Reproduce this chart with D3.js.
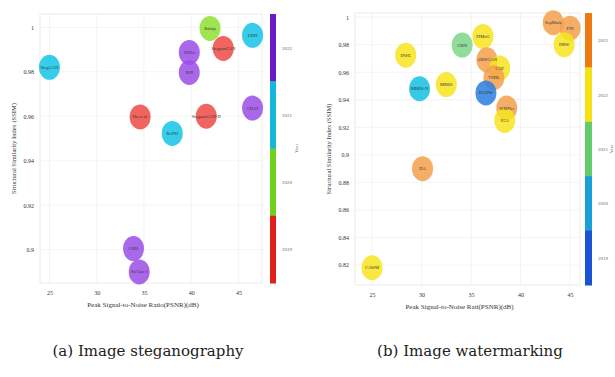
<!DOCTYPE html>
<html><head><meta charset="utf-8">
<script src="https://cdn.jsdelivr.net/npm/d3@7"></script>
<style>body{margin:0;background:#fff}svg{display:block}text{font-family:"Liberation Serif","DejaVu Serif",serif}text.cap{font-family:"DejaVu Serif",serif}</style>
</head><body><svg id="c" width="615" height="377"></svg>
<script>
// ---- (a) Image steganography ----
const stegNames = ["Baluja","UDH","SteganoGAN","HiNet","ISN","StegGAN","Hu et al.","SteganoGAN-D","CHAT","RePSI","CSIS","SteGuz-1"];
const stegPSNR  = [42.0, 46.5, 43.4, 39.8, 39.8, 25.0, 34.6, 41.6, 46.5, 38.0, 33.9, 34.5];
const stegSSIM  = [0.9995, 0.9964, 0.9905, 0.9887, 0.9797, 0.982, 0.9597, 0.960, 0.9637, 0.9523, 0.9005, 0.890];
const stegYear  = [2020, 2021, 2019, 2022, 2022, 2021, 2019, 2019, 2022, 2021, 2022, 2022];
const stegYears = [2022, 2021, 2020, 2019];
const stegColors = ["#6a1bc4", "#16b8da", "#6fd11e", "#e0201c"];
const stegPointColors = ["#9a4ee6", "#12c4e6", "#8fe030", "#ee4a44"];
const stegXTicks = [25, 30, 35, 40, 45];
const stegYTicks = [0.9, 0.92, 0.94, 0.96, 0.98, 1];

// ---- (b) Image watermarking ----
const wmNames = ["CAWM","DA","DWE","CRIS","PIMoG","ARWGAN","CAT","TSDL","MBRS-N","MBRS","DADW","WMNet","IGA","SepMark","FIN","DRW"];
const wmPSNR  = [25.0, 30.1, 28.4, 34.1, 36.2, 36.6, 37.9, 37.3, 29.8, 32.5, 36.5, 38.6, 38.4, 43.3, 45.0, 44.4];
const wmSSIM  = [0.818, 0.890, 0.9724, 0.9797, 0.986, 0.969, 0.963, 0.956, 0.948, 0.951, 0.945, 0.934, 0.925, 0.996, 0.992, 0.980];
const wmYear  = [2022, 2023, 2022, 2021, 2022, 2023, 2022, 2023, 2020, 2022, 2019, 2023, 2022, 2023, 2023, 2022];
const wmYears = [2023, 2022, 2021, 2020, 2019];
const wmColors = ["#f07a12", "#f6e214", "#62cc6a", "#1a9fd8", "#1a52d4"];
const wmPointColors = ["#f5a04c", "#f7e41e", "#7ed68a", "#14c0e4", "#2a7ee0"];
const wmXTicks = [25, 30, 35, 40, 45];
const wmYTicks = [0.82, 0.84, 0.86, 0.88, 0.9, 0.92, 0.94, 0.96, 0.98, 1];

const svg = d3.select("#c");

function panel(o) {
  const g = svg.append("g");
  const x = d3.scaleLinear().domain(o.xDomain).range([o.left, o.right]);
  const y = d3.scaleLinear().domain(o.yDomain).range([o.bottom, o.top]);
  // grid
  g.append("g").selectAll("line.gx").data(o.xTicks).join("line")
    .attr("x1", d => x(d)).attr("x2", d => x(d)).attr("y1", o.top).attr("y2", o.bottom)
    .attr("stroke", "#ececec").attr("stroke-width", 0.6);
  g.append("g").selectAll("line.gy").data(o.yTicks).join("line")
    .attr("x1", o.left).attr("x2", o.right).attr("y1", d => y(d)).attr("y2", d => y(d))
    .attr("stroke", "#ececec").attr("stroke-width", 0.6);
  g.append("rect").attr("x", o.left).attr("y", o.top).attr("width", o.right - o.left)
    .attr("height", o.bottom - o.top).attr("fill", "none").attr("stroke", "#e2e2e2").attr("stroke-width", 0.7);
  // axes
  const xa = g.append("g").attr("transform", `translate(0,${o.bottom})`)
    .call(d3.axisBottom(x).tickValues(o.xTicks).tickSize(0).tickPadding(8).tickFormat(d3.format("d")));
  const ya = g.append("g").attr("transform", `translate(${o.left},0)`)
    .call(d3.axisLeft(y).tickValues(o.yTicks).tickSize(0).tickPadding(6).tickFormat(d => d === 1 ? "1" : d3.format(".2~f")(d)));
  [xa, ya].forEach(a => { a.select(".domain").remove(); a.selectAll("text").attr("font-size", 6).attr("fill", "#333"); });
  g.append("text").attr("x", (o.left + o.right) / 2 - 8).attr("y", o.bottom + 24)
    .attr("text-anchor", "middle").attr("font-size", 7).attr("fill", "#333").text(o.xLabel);
  g.append("text").attr("transform", `translate(${o.left - 24},${(o.top + o.bottom) / 2}) rotate(-90)`)
    .attr("text-anchor", "middle").attr("font-size", 6.5).attr("fill", "#333")
    .text("Structural Similarity Index (SSIM)");
  // colorbar
  const cb = d3.scaleBand().domain(o.years).range([o.top, o.bottom]).padding(0);
  g.append("g").selectAll("rect").data(o.years).join("rect")
    .attr("x", o.cbX).attr("y", d => cb(d)).attr("width", o.cbW).attr("height", cb.bandwidth() + 0.5)
    .attr("fill", (d, i) => o.colors[i]);
  g.append("g").selectAll("text").data(o.years).join("text")
    .attr("x", o.cbX + o.cbW + 6).attr("y", d => cb(d) + cb.bandwidth() / 2 + 2)
    .attr("font-size", 5).attr("fill", "#666").text(d => d);
  g.append("text").attr("transform", `translate(${o.cbX + 28},${(o.top + o.bottom) / 2}) rotate(-90)`)
    .attr("text-anchor", "middle").attr("font-size", 5).attr("fill", "#666").text("Year");
  // bubbles
  const idx = d3.range(o.names.length);
  const col = i => o.pointColors[o.years.indexOf(o.year[i])];
  const b = g.append("g");
  b.selectAll("ellipse").data(idx).join("ellipse")
    .attr("cx", i => x(o.px[i])).attr("cy", i => y(o.py[i]))
    .attr("rx", 10.5).attr("ry", 12.5).attr("fill", col).attr("fill-opacity", 0.85);
  b.selectAll("text").data(idx).join("text")
    .attr("x", i => x(o.px[i])).attr("y", i => y(o.py[i]) + 1.5)
    .attr("text-anchor", "middle").attr("font-size", 4.5).attr("fill", "#333").text(i => o.names[i]);
}

panel({left: 40, right: 262, top: 14, bottom: 283, xDomain: [24, 47.5], yDomain: [0.885, 1.006],
  xTicks: stegXTicks, yTicks: stegYTicks, names: stegNames, px: stegPSNR, py: stegSSIM, year: stegYear,
  years: stegYears, colors: stegColors, pointColors: stegPointColors, cbX: 270, cbW: 6,
  xLabel: "Peak Signal-to-Noise Ratio(PSNR)(dB)"});

panel({left: 355, right: 580, top: 13, bottom: 285, xDomain: [23.28, 46.0], yDomain: [0.8055, 1.003],
  xTicks: wmXTicks, yTicks: wmYTicks, names: wmNames, px: wmPSNR, py: wmSSIM, year: wmYear,
  years: wmYears, colors: wmColors, pointColors: wmPointColors, cbX: 585, cbW: 7,
  xLabel: "Peak Signal-to-Noise Rati(PSNR)(dB)"});

svg.append("text").attr("class", "cap").attr("x", 148).attr("y", 356).attr("text-anchor", "middle")
  .attr("font-size", 15).attr("fill", "#222").text("(a) Image steganography");
svg.append("text").attr("class", "cap").attr("x", 470).attr("y", 356).attr("text-anchor", "middle")
  .attr("font-size", 15).attr("fill", "#222").text("(b) Image watermarking");
</script></body></html>
